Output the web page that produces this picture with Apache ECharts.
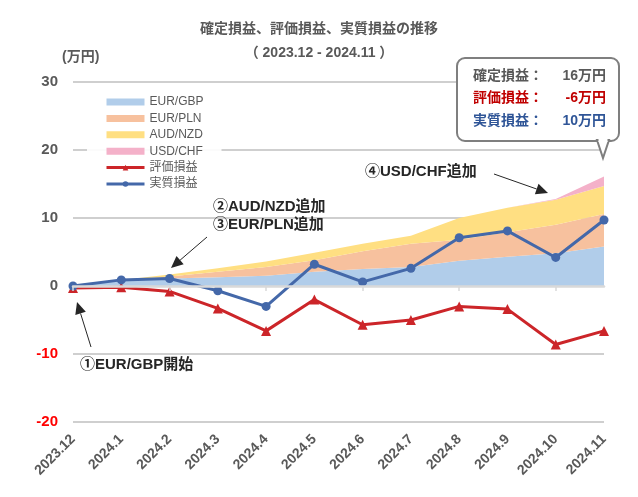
<!DOCTYPE html>
<html>
<head>
<meta charset="utf-8">
<script src="https://cdn.jsdelivr.net/npm/echarts@6/dist/echarts.min.js"></script>
<style>
  html, body { margin: 0; padding: 0; background: #fff; }
  #chart { width: 638px; height: 497px; }
</style>
</head>
<body>
<div id="chart"></div>
<script>
var FONT = "'Liberation Sans', 'Noto Sans CJK JP', sans-serif";
var GRAY = '#595959';

// 月
var months = ['2023.12', '2024.1', '2024.2', '2024.3', '2024.4', '2024.5',
              '2024.6', '2024.7', '2024.8', '2024.9', '2024.10', '2024.11'];

// 確定損益（通貨ペア別・積み上げ）万円
var eurGbp = [0, 0.9, 1.1, 1.3, 1.5, 2.1, 2.5, 2.8, 3.7, 4.3, 4.8, 5.8];
var eurPln = [0, 0, 0.3, 0.8, 1.3, 1.7, 2.6, 3.4, 3.1, 3.6, 4.2, 4.8];
var audNzd = [0, 0, 0.3, 0.5, 0.8, 1.1, 1.1, 1.2, 3.2, 3.6, 3.7, 4.1];
var usdChf = [0, 0, 0, 0, 0, 0, 0, 0, 0, 0, 0.1, 1.4];

// 評価損益・実質損益 万円
var hyouka = [-0.3, -0.2, -0.8, -3.3, -6.6, -2.0, -5.7, -5.0, -3.0, -3.4, -8.6, -6.6];
var jisshitsu = [0, 0.9, 1.1, -0.7, -3.0, 3.2, 0.6, 2.6, 7.1, 8.1, 4.2, 9.7];

// 目盛り
var yMin = -20, yMax = 30, yStep = 10;

function areaSeries(name, data, color) {
    return {
        name: name,
        type: 'line',
        stack: 'kakutei',
        data: data,
        symbol: 'none',
        lineStyle: { width: 0 },
        itemStyle: { color: color },
        areaStyle: { color: color, opacity: 1 },
        z: 1
    };
}

function arrow(x1, y1, x2, y2) {
    var dx = x2 - x1, dy = y2 - y1;
    var len = Math.sqrt(dx * dx + dy * dy);
    var ux = dx / len, uy = dy / len;
    var hl = 12, hw = 5.5;
    var bx = x2 - ux * hl, by = y2 - uy * hl;
    return [
        { type: 'line', shape: { x1: x1, y1: y1, x2: bx, y2: by },
          style: { stroke: '#262626', lineWidth: 1 }, z: 20 },
        { type: 'polygon',
          shape: { points: [[x2, y2], [bx - uy * hw, by + ux * hw], [bx + uy * hw, by - ux * hw]] },
          style: { fill: '#262626' }, z: 20 }
    ];
}

function note(text, x, y) {
    return { type: 'text', left: x, top: y, z: 20,
             style: { text: text, font: 'bold 15px ' + FONT, fill: '#262626' } };
}

var graphics = [
    { type: 'text', left: 62, top: 50,
      style: { text: '(万円)', font: 'bold 14px ' + FONT, fill: GRAY } },
    { type: 'rect', z: 30,
      shape: { x: 457, y: 58, width: 162, height: 83, r: 8 },
      style: { fill: '#fff', stroke: '#7F7F7F', lineWidth: 2 } },
    { type: 'polygon', z: 31,
      shape: { points: [[597, 140], [603, 158], [609, 140]] },
      style: { fill: '#fff', stroke: '#7F7F7F', lineWidth: 2 } },
    { type: 'rect', z: 32,
      shape: { x: 598.5, y: 138, width: 9, height: 4 },
      style: { fill: '#fff' } },
    { type: 'text', left: 473, top: 69, z: 33, style: { text: '確定損益：', font: 'bold 14px ' + FONT, fill: GRAY } },
    { type: 'text', left: 473, top: 91, z: 33, style: { text: '評価損益：', font: 'bold 14px ' + FONT, fill: '#C00000' } },
    { type: 'text', left: 473, top: 114, z: 33, style: { text: '実質損益：', font: 'bold 14px ' + FONT, fill: '#2F5597' } },
    { type: 'text', right: 32, top: 69, z: 33, style: { text: '16万円', font: 'bold 14px ' + FONT, fill: GRAY } },
    { type: 'text', right: 32, top: 91, z: 33, style: { text: '-6万円', font: 'bold 14px ' + FONT, fill: '#C00000' } },
    { type: 'text', right: 32, top: 114, z: 33, style: { text: '10万円', font: 'bold 14px ' + FONT, fill: '#2F5597' } },
    note('④USD/CHF追加', 365, 164),
    note('②AUD/NZD追加', 213, 199),
    note('③EUR/PLN追加', 213, 217),
    note('①EUR/GBP開始', 80, 357)
].concat(arrow(494, 174, 548, 193), arrow(207, 237, 171, 268), arrow(91, 347, 77, 302));

var option = {
    animation: false,
    textStyle: { fontFamily: FONT },
    title: {
        text: '確定損益、評価損益、実質損益の推移',
        subtext: '（ 2023.12 - 2024.11 ）',
        left: 'center',
        top: 17,
        itemGap: 10,
        textStyle: { fontSize: 14, fontWeight: 'bold', color: GRAY, fontFamily: FONT },
        subtextStyle: { fontSize: 14, fontWeight: 'bold', color: GRAY, fontFamily: FONT }
    },
    legend: {
        orient: 'vertical',
        left: 87,
        top: 91,
        padding: [5, 18, 5, 18],
        itemWidth: 38,
        itemHeight: 7,
        itemGap: 4.4,
        backgroundColor: 'rgba(255,255,255,0.92)',
        textStyle: { fontSize: 12, color: GRAY, lineHeight: 12, fontFamily: FONT },
        data: [
            { name: 'EUR/GBP', icon: 'rect' },
            { name: 'EUR/PLN', icon: 'rect' },
            { name: 'AUD/NZD', icon: 'rect' },
            { name: 'USD/CHF', icon: 'rect' },
            { name: '評価損益', lineStyle: { width: 3 } },
            { name: '実質損益', lineStyle: { width: 3 } }
        ]
    },
    grid: { left: 73, right: 34, top: 82, bottom: 75 },
    xAxis: [
        {
            type: 'category',
            data: months,
            boundaryGap: false,
            axisLine: { onZero: true, lineStyle: { color: '#D9D9D9', width: 2.5 } },
            axisTick: { show: true, length: 5, lineStyle: { color: '#D9D9D9', width: 1.5 } },
            axisLabel: { show: false },
            z: 5
        },
        {
            type: 'category',
            data: months,
            boundaryGap: false,
            position: 'bottom',
            axisLine: { show: false, onZero: false },
            axisTick: { show: false },
            axisLabel: { rotate: 45, margin: 15, fontSize: 14, fontWeight: 'bold', color: GRAY, fontFamily: FONT }
        }
    ],
    yAxis: {
        type: 'value',
        min: yMin,
        max: yMax,
        interval: yStep,
        axisLine: { show: false },
        axisTick: { show: false },
        splitLine: { lineStyle: { color: '#BFBFBF', width: 1.5 } },
        axisLabel: {
            margin: 15,
            formatter: function (v) { return v < 0 ? '{neg|' + v + '}' : '{pos|' + v + '}'; },
            rich: {
                pos: { fontSize: 15, fontWeight: 'bold', color: GRAY, fontFamily: FONT },
                neg: { fontSize: 15, fontWeight: 'bold', color: '#FF0000', fontFamily: FONT }
            }
        }
    },
    series: [
        areaSeries('EUR/GBP', eurGbp, '#B1CDEA'),
        areaSeries('EUR/PLN', eurPln, '#F7C19E'),
        areaSeries('AUD/NZD', audNzd, '#FFDF82'),
        areaSeries('USD/CHF', usdChf, '#F4B1C9'),
        {
            name: '評価損益',
            type: 'line',
            data: hyouka,
            symbol: 'triangle',
            symbolSize: 10,
            itemStyle: { color: '#CC2529' },
            lineStyle: { color: '#CC2529', width: 3 },
            z: 3
        },
        {
            name: '実質損益',
            type: 'line',
            data: jisshitsu,
            symbol: 'circle',
            symbolSize: 9,
            itemStyle: { color: '#4468A9' },
            lineStyle: { color: '#4468A9', width: 3 },
            z: 4
        }
    ],
    graphic: graphics
};

var chart = echarts.init(document.getElementById('chart'));
chart.setOption(option);
</script>
</body>
</html>
